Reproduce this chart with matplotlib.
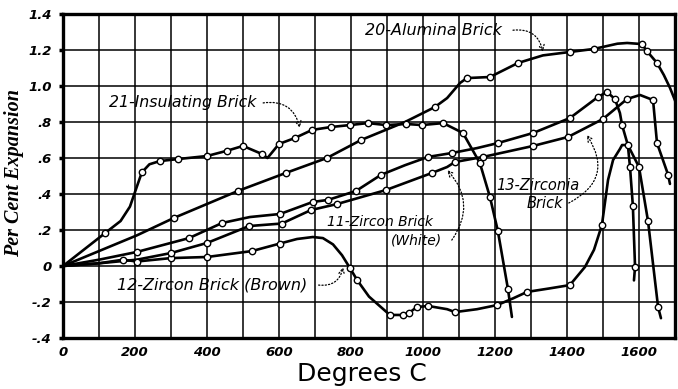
import numpy as np
import matplotlib
matplotlib.use('Agg')
import matplotlib.pyplot as plt

# Courbes (température en °C, dilatation en %)
alumina_t = [0, 205, 308, 486, 619, 733, 828, 950, 1033, 1067, 1103, 1122, 1186, 1264, 1333,
             1408, 1475, 1540, 1567, 1608, 1622, 1650, 1669, 1686, 1700, 1710]
alumina_e = [0, 0.17, 0.267, 0.417, 0.517, 0.60, 0.70, 0.80, 0.883, 0.933, 1.017, 1.044, 1.05,
             1.128, 1.17, 1.189, 1.206, 1.235, 1.239, 1.233, 1.194, 1.128, 1.061, 0.99, 0.92, 0.86]
alumina_m = [2, 3, 4, 5, 6, 8, 11, 12, 13, 15, 16, 19, 20, 21]

insul_t = [0, 117, 160, 186, 205, 219, 240, 269, 319, 400, 455, 500, 553, 568, 600, 644, 692,
           744, 797, 847, 897, 953, 997, 1056, 1111, 1158, 1186, 1208, 1236, 1247]
insul_e = [0, 0.183, 0.25, 0.33, 0.44, 0.52, 0.565, 0.583, 0.594, 0.611, 0.64, 0.667, 0.622,
           0.60, 0.678, 0.711, 0.756, 0.772, 0.783, 0.794, 0.783, 0.789, 0.783, 0.794, 0.739,
           0.572, 0.383, 0.194, -0.128, -0.283]
insul_m = [1, 5, 7, 8, 9, 10, 11, 12, 14, 15, 16, 17, 18, 19, 20, 21, 22, 23, 24, 25, 26, 27, 28]

brown_t = [0, 100, 167, 205, 300, 400, 525, 603, 650, 694, 722, 750, 775, 797, 817, 850, 908,
           944, 961, 983, 1014, 1067, 1089, 1150, 1206, 1250, 1289, 1350, 1408, 1450, 1475,
           1497, 1514, 1528, 1547, 1553, 1569, 1575, 1583, 1589, 1586]
brown_e = [0, 0.015, 0.035, 0.025, 0.044, 0.05, 0.083, 0.125, 0.15, 0.161, 0.155, 0.12, 0.06,
           -0.011, -0.078, -0.17, -0.272, -0.272, -0.261, -0.228, -0.222, -0.24, -0.256, -0.24,
           -0.217, -0.18, -0.144, -0.125, -0.106, -0.005, 0.09, 0.228, 0.478, 0.589, 0.65,
           0.672, 0.672, 0.55, 0.333, -0.005, -0.08]
brown_m = [2, 3, 4, 5, 6, 7, 13, 14, 16, 17, 18, 19, 20, 22, 24, 26, 28, 31, 37, 38, 39]

white_t = [0, 100, 205, 350, 442, 519, 603, 694, 736, 814, 883, 950, 1014, 1081, 1150, 1208,
           1306, 1408, 1486, 1511, 1533, 1547, 1553, 1569, 1600, 1625, 1653, 1661]
white_e = [0, 0.035, 0.078, 0.155, 0.239, 0.272, 0.289, 0.356, 0.367, 0.417, 0.506, 0.56,
           0.606, 0.628, 0.655, 0.683, 0.739, 0.822, 0.939, 0.967, 0.928, 0.85, 0.783, 0.672,
           0.55, 0.25, -0.228, -0.29]
white_m = [2, 3, 4, 6, 7, 8, 9, 10, 12, 13, 15, 16, 17, 18, 19, 20, 22, 23, 24, 25, 26]

zirc_t = [0, 100, 205, 300, 400, 517, 608, 689, 761, 897, 1025, 1067, 1089, 1167, 1306, 1403,
          1500, 1567, 1603, 1639, 1650, 1681, 1686]
zirc_e = [0, 0.015, 0.035, 0.072, 0.128, 0.222, 0.236, 0.311, 0.344, 0.422, 0.517, 0.55,
          0.578, 0.606, 0.667, 0.717, 0.817, 0.928, 0.95, 0.922, 0.683, 0.506, 0.456]
zirc_m = [3, 4, 5, 6, 7, 8, 9, 10, 12, 13, 14, 15, 16, 17, 19, 20, 21]

x_ticks = [0, 200, 400, 600, 800, 1000, 1200, 1400, 1600]
y_ticks = [-0.4, -0.2, 0, 0.2, 0.4, 0.6, 0.8, 1.0, 1.2, 1.4]
y_labels = ['-.4', '-.2', '0', '.2', '.4', '.6', '.8', '1.0', '1.2', '1.4']

fig = plt.figure(figsize=(6.78, 3.89), dpi=100)
ax = fig.add_axes([63/678, 1-338/389, 612/678, 324/389])

series = [(alumina_t, alumina_e, alumina_m), (insul_t, insul_e, insul_m),
          (brown_t, brown_e, brown_m), (white_t, white_e, white_m),
          (zirc_t, zirc_e, zirc_m)]
for t, e, m in series:
    t = np.array(t)
    e = np.array(e)
    ax.plot(t, e, color='black', lw=1.9, solid_capstyle='round', zorder=3)
    ax.plot(t[m], e[m], linestyle='none', marker='o', markersize=4.6,
            markerfacecolor='white', markeredgecolor='black', markeredgewidth=1.0, zorder=4)

ax.set_xlim(0, 1700)
ax.set_ylim(-0.4, 1.4)
ax.set_xticks(x_ticks)
ax.set_xticks(np.arange(100, 1700, 200), minor=True)
ax.set_yticks(y_ticks)
ax.set_yticklabels(y_labels)
ax.grid(True, which='both', color='black', lw=1.1)
ax.set_axisbelow(True)
for s in ax.spines.values():
    s.set_linewidth(2.4)
ax.tick_params(axis='both', which='both', length=0, pad=6)
ax.tick_params(axis='y', length=3, width=2.5, pad=5)
for lab in ax.get_xticklabels() + ax.get_yticklabels():
    lab.set_fontsize(9.5)
    lab.set_fontweight('bold')
    lab.set_fontstyle('italic')

fig.text(14/678, 1-173/389, 'Per Cent Expansion', rotation=90, ha='center', va='center',
         family='Liberation Serif', fontweight='bold', fontstyle='italic', fontsize=14.5)
fig.text(362/678, 1-374/389, 'Degrees C', ha='center', va='center', fontsize=18)

# Étiquettes
ax.text(1030, 1.31, '20-Alumina Brick', ha='center', va='center', fontstyle='italic', fontsize=11.5)
ax.text(332, 0.906, '21-Insulating Brick', ha='center', va='center', fontstyle='italic', fontsize=11.3)
ax.text(881, 0.244, '11-Zircon Brick', ha='center', va='center', fontstyle='italic', fontsize=10)
ax.text(981, 0.144, '(White)', ha='center', va='center', fontstyle='italic', fontsize=10)
ax.text(1320, 0.45, '13-Zirconia', ha='center', va='center', fontstyle='italic', fontsize=10.5)
ax.text(1339, 0.35, 'Brick', ha='center', va='center', fontstyle='italic', fontsize=10.5)
ax.text(413, -0.106, '12-Zircon Brick (Brown)', ha='center', va='center', fontstyle='italic',
        fontsize=11.5)

# Flèches pointillées
arr = dict(arrowstyle='->', color='black', lw=0.9, linestyle=':', shrinkA=0, shrinkB=0)
ax.annotate('', xy=(1333, 1.19), xytext=(1250, 1.31),
            arrowprops=dict(arr, connectionstyle='arc3,rad=-0.45'))
ax.annotate('', xy=(658, 0.767), xytext=(556, 0.906),
            arrowprops=dict(arr, connectionstyle='arc3,rad=-0.45'))
ax.annotate('', xy=(1067, 0.533), xytext=(1080, 0.144),
            arrowprops=dict(arr, connectionstyle='arc3,rad=0.4'))
ax.annotate('', xy=(1455, 0.728), xytext=(1405, 0.35),
            arrowprops=dict(arr, connectionstyle='arc3,rad=0.55'))
ax.annotate('', xy=(778, -0.006), xytext=(710, -0.106),
            arrowprops=dict(arr, connectionstyle='arc3,rad=0.45'))

fig.savefig('out.png', dpi=100)
